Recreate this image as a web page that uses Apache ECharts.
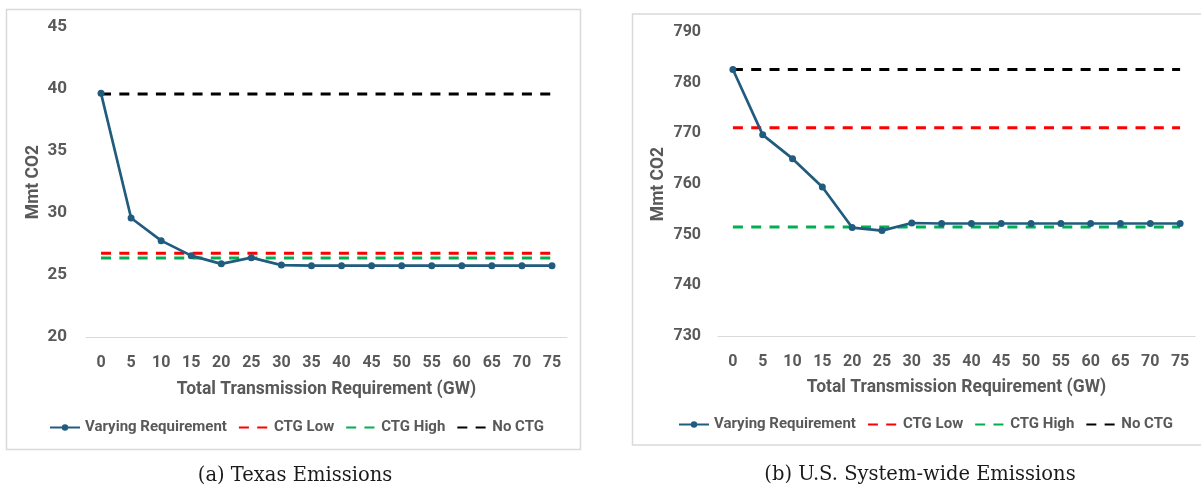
<!DOCTYPE html>
<html>
<head>
<meta charset="utf-8">
<script src="https://cdn.jsdelivr.net/npm/echarts@6/dist/echarts.min.js"></script>
<style>
html,body{margin:0;padding:0;background:#fff;}
#c{width:1201px;height:489px;}
</style>
</head>
<body>
<div id="c"></div>
<script>
// ---- data ----
const categories = ['0','5','10','15','20','25','30','35','40','45','50','55','60','65','70','75'];
const texasVarying = [39.65, 29.6, 27.77, 26.56, 25.9, 26.4, 25.8, 25.75, 25.75, 25.75, 25.75, 25.75, 25.75, 25.75, 25.75, 25.75];
const texasCtgLow  = [26.75, 26.75, 26.75, 26.75, 26.75, 26.75, 26.75, 26.75, 26.75, 26.75, 26.75, 26.75, 26.75, 26.75, 26.75, 26.75];
const texasCtgHigh = [26.37, 26.37, 26.37, 26.37, 26.37, 26.37, 26.37, 26.37, 26.37, 26.37, 26.37, 26.37, 26.37, 26.37, 26.37, 26.37];
const texasNoCtg   = [39.6, 39.6, 39.6, 39.6, 39.6, 39.6, 39.6, 39.6, 39.6, 39.6, 39.6, 39.6, 39.6, 39.6, 39.6, 39.6];
const usVarying = [782.6, 769.7, 765.0, 759.4, 751.4, 750.8, 752.3, 752.2, 752.2, 752.2, 752.2, 752.2, 752.2, 752.2, 752.2, 752.2];
const usCtgLow  = [771.1, 771.1, 771.1, 771.1, 771.1, 771.1, 771.1, 771.1, 771.1, 771.1, 771.1, 771.1, 771.1, 771.1, 771.1, 771.1];
const usCtgHigh = [751.5, 751.5, 751.5, 751.5, 751.5, 751.5, 751.5, 751.5, 751.5, 751.5, 751.5, 751.5, 751.5, 751.5, 751.5, 751.5];
const usNoCtg   = [782.6, 782.6, 782.6, 782.6, 782.6, 782.6, 782.6, 782.6, 782.6, 782.6, 782.6, 782.6, 782.6, 782.6, 782.6, 782.6];
const seriesNames = ['Varying Requirement', 'CTG Low', 'CTG High', 'No CTG'];
const xTitle = 'Total Transmission Requirement (GW)';
const yTitle = 'Mmt CO2';
const captionA = '(a) Texas Emissions';
const captionB = '(b) U.S. System-wide Emissions';

// ---- styles ----
const FONT = 'Roboto, "Liberation Sans", sans-serif';
const TXT = '#595959';
const BLUE = '#215C7E';
const dash = [10, 8.3];
const CLEAR = 'rgba(0,0,0,0)';

function axisX(gi, gap, margin) {
  return {
    type: 'category', gridIndex: gi, data: categories, boundaryGap: true,
    axisTick: {show: false},
    axisLine: {lineStyle: {color: '#D9D9D9', width: 1}},
    axisLabel: {color: TXT, fontFamily: FONT, fontWeight: 'bold', fontSize: 16, margin: margin, interval: 0},
    name: xTitle, nameLocation: 'middle', nameGap: gap,
    nameTextStyle: {color: TXT, fontFamily: FONT, fontWeight: 'bold', fontSize: 17.5}
  };
}
function axisY(gi, min, max, interval, gap, fs, margin) {
  return {
    type: 'value', gridIndex: gi, min: min, max: max, interval: interval,
    splitLine: {show: false}, axisLine: {show: false}, axisTick: {show: false},
    axisLabel: {color: TXT, fontFamily: FONT, fontWeight: 'bold', fontSize: fs, margin: margin},
    name: yTitle, nameLocation: 'middle', nameGap: gap, nameRotate: 90,
    nameTextStyle: {color: TXT, fontFamily: FONT, fontWeight: 'bold', fontSize: 17.5}
  };
}
function dashed(gi, name, data, color, z) {
  return {name: name, type: 'line', xAxisIndex: gi, yAxisIndex: gi, data: data,
    symbol: 'none', itemStyle: {color: CLEAR},
    lineStyle: {color: color, width: 3, type: dash}, z: z};
}
function mkSeries(gi, vary, low, high, none) {
  return [
    {name: seriesNames[0], type: 'line', xAxisIndex: gi, yAxisIndex: gi, data: vary,
     symbol: 'circle', symbolSize: 7, itemStyle: {color: BLUE},
     lineStyle: {color: BLUE, width: 2.7}, z: 5},
    dashed(gi, seriesNames[1], low, '#FF0000', 2),
    dashed(gi, seriesNames[2], high, '#00B050', 2),
    dashed(gi, seriesNames[3], none, '#000000', 3)
  ];
}
function mkLegend(left, top) {
  return {
    left: left, top: top, itemWidth: 30, itemHeight: 8, itemGap: 11,
    data: seriesNames,
    textStyle: {color: TXT, fontFamily: FONT, fontWeight: 'bold', fontSize: 15}
  };
}

const series = mkSeries(0, texasVarying, texasCtgLow, texasCtgHigh, texasNoCtg)
  .concat(mkSeries(1, usVarying, usCtgLow, usCtgHigh, usNoCtg));

const option = {
  backgroundColor: '#fff',
  animation: false,
  grid: [
    {left: 86, top: 27, width: 481, height: 310},
    {left: 718, top: 32, width: 477, height: 304}
  ],
  xAxis: [axisX(0, 44, 18), axisX(1, 43, 18)],
  yAxis: [axisY(0, 20, 45, 5, 43, 17, 19), axisY(1, 730, 790, 10, 50, 16, 17)],
  legend: [mkLegend(44, 415), mkLegend(673, 412)],
  series: series,
  graphic: [
    {type: 'rect', shape: {x: 6.5, y: 9.5, width: 574, height: 440}, style: {fill: 'none', stroke: '#D9D9D9', lineWidth: 1.5}, silent: true, z: -1},
    {type: 'rect', shape: {x: 632.5, y: 14, width: 600, height: 431}, style: {fill: 'none', stroke: '#D9D9D9', lineWidth: 1.5}, silent: true, z: -1},
    {type: 'text', x: 295, y: 476, style: {text: captionA, fill: '#1a1a1a', font: '19.5px "DejaVu Serif", "Liberation Serif", serif', textAlign: 'center', textVerticalAlign: 'middle'}},
    {type: 'text', x: 920, y: 475, style: {text: captionB, fill: '#1a1a1a', font: '19.5px "DejaVu Serif", "Liberation Serif", serif', textAlign: 'center', textVerticalAlign: 'middle'}}
  ]
};
const chart = echarts.init(document.getElementById('c'), null, {renderer: 'canvas'});
chart.setOption(option);
</script>
</body>
</html>
